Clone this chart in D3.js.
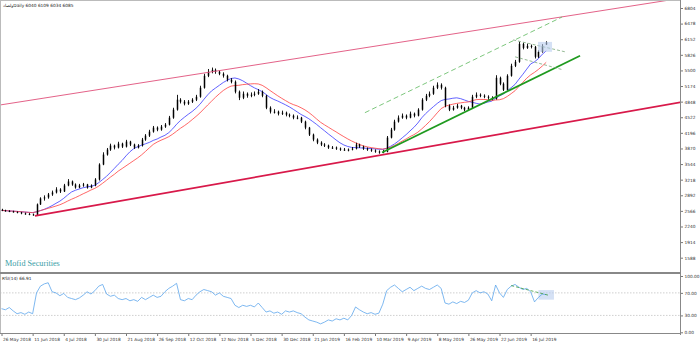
<!DOCTYPE html>
<html><head><meta charset="utf-8">
<script src="https://cdn.jsdelivr.net/npm/d3@7"></script>
<style>body{margin:0;background:#fff}svg{display:block}</style>
</head><body><svg id="c" width="700" height="345"></svg>
<script>
const opens=[2590,2576,2565,2555,2545,2534,2513,2503,2492,2482,
2701,2826,2847,2909,2951,3013,2972,3097,3180,3117,
3055,3097,3117,3055,3097,3221,3534,3742,3846,3930,
3888,3971,3909,4013,3951,3888,3930,4055,4138,4221,
4305,4263,4326,4367,4513,4680,4888,4846,4805,4846,
4888,4950,5138,5388,5471,5513,5471,5429,5388,5305,
5263,5055,4930,5013,4971,4992,5013,5055,4971,4721,
4638,4638,4596,4617,4575,4555,4513,4513,4430,4305,
4159,4055,3992,3951,3930,3888,3888,3867,3846,3846,
3846,3867,3951,3909,3867,3846,3826,3805,3784,3805,
4096,4263,4430,4513,4555,4513,4596,4555,4680,4888,
4971,5013,5138,5200,5138,4763,4680,4721,4763,4721,
4680,4721,4950,4992,4971,4950,4930,4909,5346,5221,
5096,5388,5596,5680,6054,5971,6013,5992,5784,5888,
6040];
const highs=[2610,2590,2580,2570,2555,2545,2530,2520,2510,2720,
2850,2890,2940,2990,3060,3040,3130,3230,3200,3140,
3130,3150,3130,3120,3250,3560,3790,3880,3970,3950,
4010,3990,4050,4030,3970,3960,4090,4170,4260,4340,
4330,4360,4400,4550,4720,4990,4920,4880,4880,4920,
4990,5180,5430,5530,5560,5540,5500,5460,5410,5340,
5290,5080,5060,5040,5040,5060,5110,5080,4990,4750,
4690,4660,4660,4640,4600,4580,4560,4530,4450,4320,
4180,4080,4020,3980,3950,3920,3910,3890,3880,3870,
3900,3990,3970,3930,3890,3870,3850,3830,3840,4130,
4300,4470,4560,4600,4580,4640,4620,4710,4920,5010,
5060,5180,5250,5230,5160,4790,4760,4800,4780,4740,
4750,4990,5040,5020,5000,4980,4960,5400,5370,5250,
5420,5640,5720,6100,6080,6060,6040,6010,5920,6050,
6109];
const lows=[2560,2550,2540,2530,2515,2495,2485,2475,2465,2470,
2690,2780,2820,2880,2930,2940,2960,3080,3090,3030,
3040,3070,3030,3040,3080,3200,3520,3720,3820,3850,
3870,3880,3890,3920,3860,3870,3910,4030,4110,4200,
4230,4240,4300,4350,4490,4660,4810,4770,4780,4820,
4860,4930,5120,5360,5440,5430,5400,5350,5270,5230,
5020,4880,4900,4930,4940,4960,4990,4940,4690,4600,
4600,4560,4570,4540,4520,4480,4480,4400,4270,4130,
4020,3960,3920,3900,3860,3860,3840,3820,3820,3810,
3830,3850,3880,3840,3820,3800,3780,3760,3770,3790,
4080,4240,4410,4490,4480,4500,4520,4540,4660,4860,
4940,4990,5110,5100,4730,4650,4660,4700,4690,4650,
4660,4700,4920,4940,4920,4890,4880,4890,5190,5070,
5080,5370,5570,5660,5940,5950,5960,5750,5760,5870,
6034];
const closes=[2576,2565,2555,2545,2534,2513,2503,2492,2482,2701,
2826,2847,2909,2951,3013,2972,3097,3180,3117,3055,
3097,3117,3055,3097,3221,3534,3742,3846,3930,3888,
3971,3909,4013,3951,3888,3930,4055,4138,4221,4305,
4263,4326,4367,4513,4680,4888,4846,4805,4846,4888,
4950,5138,5388,5471,5513,5471,5429,5388,5305,5263,
5055,4930,5013,4971,4992,5013,5055,4971,4721,4638,
4638,4596,4617,4575,4555,4513,4513,4430,4305,4159,
4055,3992,3951,3930,3888,3888,3867,3846,3846,3846,
3867,3951,3909,3867,3846,3826,3805,3784,3805,4096,
4263,4430,4513,4555,4513,4596,4555,4680,4888,4971,
5013,5138,5200,5138,4763,4680,4721,4763,4721,4680,
4721,4950,4992,4971,4950,4930,4909,5346,5221,5096,
5388,5596,5680,6054,5971,6013,5992,5784,5888,6013,
6085];
const rsiValues=[42,40,44,38,33,35,32,36,33,70,
82,86,88,72,70,65,69,62,60,58,
61,66,72,68,74,82,85,68,64,66,
60,58,60,56,58,55,62,58,62,66,
62,64,72,78,82,87,58,56,60,58,
66,72,76,74,72,66,70,64,62,60,
48,44,48,46,48,45,52,44,36,38,
34,36,32,38,36,38,35,33,27,22,
20,18,15,18,22,20,24,22,25,22,
30,45,40,36,33,35,32,34,50,74,
80,84,78,72,76,80,74,78,82,78,
76,80,84,78,52,50,54,51,55,53,
57,70,74,70,72,68,56,84,70,62,
76,82,85,80,76,78,72,54,62,68,
66.91];
const xTickIndex=[0,8,16,24,32,40,48,56,64,72,80,88,96,104,112,120,128,136];
const xTickLabels=["26 May 2018","11 Jun 2018","4 Jul 2018","30 Jul 2018","21 Aug 2018","26 Sep 2018","12 Oct 2018","12 Nov 2018","5 Dec 2018","30 Dec 2018","21 Jan 2019","16 Feb 2019","10 Mar 2019","9 Apr 2019","8 May 2019","26 May 2019","22 Jun 2019","16 Jul 2019"];
const priceTicks=[1588,1914,2240,2566,2892,3218,3544,3870,4196,4522,4848,5174,5500,5826,6152,6478,6804];
const rsiTicks=[0,30,70,100];
const maPeriods=[10,15];
const upperChannel=[[-1,4770],[175,7013]];
const lowerChannel=[[8.6,2460],[175,4840]];
const greenSupport=[[97.8,3784],[148.7,5805]];
const greenDashed=[[93.4,4617],[144.1,6617]];
const flagUpper=[[131.5,6138],[144.9,5888]];
const flagLower=[[132,5784],[144.3,5513]];
const boxIndex=[137.9,141.5], boxPrice=[5888,6096];
const rsiTrend=[[131,83],[140.5,66]];
const rsiBoxIndex=[138,142], rsiBoxValue=[58,75];
const titleText="ولصادDaily  6040 6109 6034 6085";
const rsiTitle="RSI(14) 66.91";
const brandText="Mofid Securities";

const svg=d3.select("#c");
const FONT="'DejaVu Sans', sans-serif";
const axisX=680, mainBottom=273, rsiTop=274, plotBottom=333;
const x=d3.scaleLinear().domain([0,140]).range([1.5,546.2]);
const y=d3.scaleLinear().domain([1588,6804]).range([257.7,8]);
const yR=d3.scaleLinear().domain([0,100]).range([332.3,276]);

svg.append("defs").append("clipPath").attr("id","mainClip").append("rect")
  .attr("x",1).attr("y",1).attr("width",axisX-1).attr("height",mainBottom-2);
svg.select("defs").append("clipPath").attr("id","rsiClip").append("rect")
  .attr("x",1).attr("y",rsiTop+1).attr("width",axisX-1).attr("height",plotBottom-rsiTop-1);

// frame
svg.append("line").attr("x1",0.5).attr("x2",0.5).attr("y1",0).attr("y2",plotBottom).attr("stroke","#bbb");
svg.append("line").attr("x1",0).attr("x2",axisX).attr("y1",0.5).attr("y2",0.5).attr("stroke","#bbb");

const main=svg.append("g").attr("clip-path","url(#mainClip)");
const idx=d3.range(closes.length);

// moving averages
function sma(arr,n){return arr.map((v,i)=>d3.mean(arr.slice(Math.max(0,i-n+1),i+1)));}
const maColors=["#3a3aff","#ff4040"];
maPeriods.forEach((p,k)=>{
  const ma=sma(closes,p);
  main.append("path").datum(ma).attr("fill","none").attr("stroke",maColors[k]).attr("stroke-width",0.8)
    .attr("d",d3.line().x((d,i)=>x(i)).y(d=>y(d)));
});

// candles
main.selectAll("line.wick").data(idx).join("line").attr("class","wick")
  .attr("x1",i=>Math.round(x(i))+0.5).attr("x2",i=>Math.round(x(i))+0.5)
  .attr("y1",i=>y(highs[i])).attr("y2",i=>y(lows[i])).attr("stroke","#000").attr("stroke-width",0.9);
main.selectAll("rect.body").data(idx).join("rect").attr("class","body")
  .attr("x",i=>Math.round(x(i))-0.25).attr("width",1.5)
  .attr("y",i=>y(Math.max(opens[i],closes[i])))
  .attr("height",i=>Math.max(1,Math.abs(y(opens[i])-y(closes[i]))))
  .attr("fill","#000");

// trendlines
const tl=d3.line().x(d=>x(d[0])).y(d=>y(d[1]));
main.append("path").attr("d",tl(upperChannel)).attr("stroke","#e0507a").attr("stroke-width",0.9).attr("fill","none");
main.append("path").attr("d",tl(lowerChannel)).attr("stroke","#d8194a").attr("stroke-width",1.7).attr("fill","none");
main.append("path").attr("d",tl(greenSupport)).attr("stroke","#1f9a1f").attr("stroke-width",1.7).attr("fill","none");
main.append("path").attr("d",tl(greenDashed)).attr("stroke","#5cb85c").attr("stroke-width",0.8).attr("stroke-dasharray","5,3").attr("fill","none");
main.append("path").attr("d",tl(flagUpper)).attr("stroke","#7aa87a").attr("stroke-width",0.8).attr("stroke-dasharray","3,2").attr("fill","none");
main.append("path").attr("d",tl(flagLower)).attr("stroke","#7aa87a").attr("stroke-width",0.8).attr("stroke-dasharray","3,2").attr("fill","none");
main.append("rect").attr("x",x(boxIndex[0])).attr("width",x(boxIndex[1])-x(boxIndex[0]))
  .attr("y",y(boxPrice[1])).attr("height",y(boxPrice[0])-y(boxPrice[1])).attr("fill","#b9cdee").attr("opacity",0.6);

// title and brand
svg.append("text").attr("x",3).attr("y",6.5).attr("font-family",FONT).attr("font-size",4.3).attr("fill","#222").text(titleText);
svg.append("text").attr("x",5).attr("y",266).attr("font-family","'Liberation Serif', serif").attr("font-size",8.2).attr("fill","#3a9ea6").text(brandText);

// separator
svg.append("line").attr("x1",0).attr("x2",axisX).attr("y1",mainBottom).attr("y2",mainBottom).attr("stroke","#888").attr("stroke-width",2);

// RSI panel
const rsiG=svg.append("g").attr("clip-path","url(#rsiClip)");
[30,70].forEach(v=>{
  rsiG.append("line").attr("x1",0).attr("x2",axisX).attr("y1",yR(v)).attr("y2",yR(v))
    .attr("stroke","#bbb").attr("stroke-width",0.7).attr("stroke-dasharray","1.5,1.5");
});
rsiG.append("rect").attr("x",x(rsiBoxIndex[0])).attr("width",x(rsiBoxIndex[1])-x(rsiBoxIndex[0]))
  .attr("y",yR(rsiBoxValue[1])).attr("height",yR(rsiBoxValue[0])-yR(rsiBoxValue[1])).attr("fill","#b9cdee").attr("opacity",0.6);
rsiG.append("path").datum(rsiValues).attr("fill","none").attr("stroke","#5da6ec").attr("stroke-width",0.8)
  .attr("d",d3.line().x((d,i)=>x(i)).y(d=>yR(d)));
rsiG.append("path").attr("d",d3.line().x(d=>x(d[0])).y(d=>yR(d[1]))(rsiTrend)).attr("stroke","#3c9a3c").attr("stroke-width",0.8).attr("stroke-dasharray","3,2").attr("fill","none");
svg.append("text").attr("x",2).attr("y",280).attr("font-family",FONT).attr("font-size",4.3).attr("fill","#222").text(rsiTitle);

// axes
const ay=svg.append("g").attr("transform",`translate(${axisX},0)`)
  .call(d3.axisRight(y).tickValues(priceTicks).tickSize(3).tickPadding(1.5).tickFormat(d3.format("d")));
const ar=svg.append("g").attr("transform",`translate(${axisX},0)`)
  .call(d3.axisRight(yR).tickValues(rsiTicks).tickSize(3).tickPadding(1.5).tickFormat(d3.format(".2f")));
[ay,ar].forEach(g=>{g.select(".domain").remove();});
svg.append("line").attr("x1",axisX+0.5).attr("x2",axisX+0.5).attr("y1",0).attr("y2",plotBottom+2).attr("stroke","#888");
const ax=svg.append("g").attr("transform",`translate(0,${plotBottom})`)
  .call(d3.axisBottom(x).tickValues(xTickIndex).tickSize(3).tickPadding(1.5).tickFormat((d,i)=>xTickLabels[i]));
ax.select(".domain").remove();
svg.append("line").attr("x1",0).attr("x2",axisX+1).attr("y1",plotBottom+0.5).attr("y2",plotBottom+0.5).attr("stroke","#888");
ax.selectAll("text").attr("text-anchor","start").attr("dx",1);
svg.selectAll(".tick text").attr("font-family",FONT).attr("font-size",4.3).attr("fill","#333");
svg.selectAll(".tick line").attr("stroke","#777");
</script></body></html>
